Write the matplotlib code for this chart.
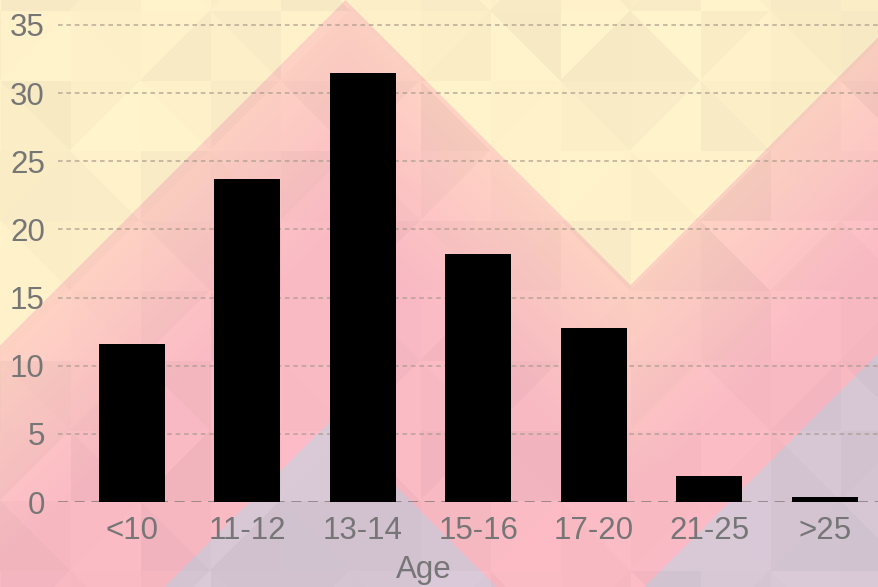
import matplotlib
matplotlib.use('Agg')
import matplotlib.pyplot as plt
import numpy as np

# data
ages = ['<10', '11-12', '13-14', '15-16', '17-20', '21-25', '>25']
share = [11.6, 23.7, 31.5, 18.2, 12.8, 1.9, 0.4]
y_ticks = [0, 5, 10, 15, 20, 25, 30, 35]

plt.rcParams['font.family'] = ['Liberation Sans', 'DejaVu Sans']

W, H = 879, 587


def make_background():
    # pastel triangle pattern: yellow top, pink middle, lavender bottom
    yy, xx = np.mgrid[0:H, 0:W].astype(float)
    b1 = np.where(xx <= 630, np.abs(xx - 345), 285 - (xx - 630))
    b2 = np.minimum(np.abs(xx - 330) + 420, np.abs(xx - 900) + 330)

    yellow = np.array([253, 239, 200]) / 255
    peach = np.array([250, 207, 192]) / 255
    hot = np.array([247, 184, 194]) / 255
    lav = np.array([214, 198, 212]) / 255

    t = np.clip((yy - b1) / 220, 0, 1)[..., None]
    img = peach * (1 - t) + hot * t
    img = np.where((yy < b1)[..., None], yellow, img)
    img = np.where((yy > b2)[..., None], lav, img)

    # diamond lattice, each diamond split in four triangles
    h = 70.0
    dx, dy = xx - 630, yy - 80
    i = np.floor((dx + dy) / (2 * h) + 0.5)
    j = np.floor((dx - dy) / (2 * h) + 0.5)
    ldx = dx - h * (i + j)
    ldy = dy - h * (i - j)
    q = (ldx > 0).astype(float) * 2 + (ldy > 0)
    s = np.sin(i * 12.9898 + j * 78.233 + q * 37.719) * 43758.5453
    s = s - np.floor(s)
    shade = 1 + (s[..., None] - 0.5) * 0.045
    return np.clip(img * shade, 0, 1)


fig = plt.figure(figsize=(W / 100, H / 100), dpi=100)
bg = fig.add_axes([0, 0, 1, 1], zorder=0)
bg.imshow(make_background(), aspect='auto', interpolation='bilinear')
bg.axis('off')

ax = fig.add_axes([58 / W, 85 / H, 1 - 58 / W, 1 - 85 / H], zorder=1)
ax.set_facecolor('none')
x = np.arange(len(ages))
ax.bar(x, share, width=0.57, color='black', zorder=3)

ax.set_xlim(-0.64, 6.47)
ax.set_ylim(0, 35 + 25 / 13.63)
ax.set_yticks(y_ticks)
ax.set_xticks(x)
ax.set_xticklabels(ages)

for yv in y_ticks[1:]:
    ax.axhline(yv, color='#a89a8c', lw=1.1, ls=(0, (3, 2.5)), alpha=0.8, zorder=1)
ax.axhline(0, color='#8a8080', lw=1.2, ls=(0, (6, 4)), zorder=2)

for sp in ax.spines.values():
    sp.set_visible(False)
ax.tick_params(axis='both', length=0, labelsize=22.5, colors='#767676')
ax.tick_params(axis='y', pad=9.5)
ax.tick_params(axis='x', pad=10)

ax.set_xlabel('Age', fontsize=22.5, color='#767676')
ax.xaxis.set_label_coords(0.446, -0.105)

fig.savefig('out.png', dpi=100)
